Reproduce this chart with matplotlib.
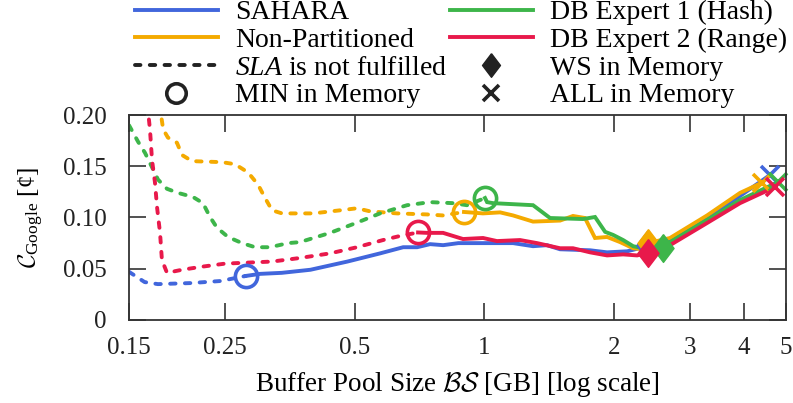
import matplotlib
matplotlib.use("Agg")
import matplotlib.pyplot as plt
from matplotlib.lines import Line2D
from matplotlib.ticker import FixedLocator, NullLocator

plt.rcParams['font.family'] = ['Liberation Serif', 'DejaVu Serif']
plt.rcParams['mathtext.fontset'] = 'custom'
plt.rcParams['mathtext.rm'] = 'Liberation Serif'
plt.rcParams['mathtext.it'] = 'Liberation Serif:italic'
plt.rcParams['mathtext.cal'] = 'cmsy10'

# buffer pool size [GB] vs. cost, split into "SLA not fulfilled" (dashed) and fulfilled (solid)
sahara_dash_x = [0.150, 0.163, 0.175, 0.208, 0.244, 0.280]
sahara_dash_y = [0.047, 0.037, 0.035, 0.036, 0.038, 0.043]
sahara_x = [0.280, 0.302, 0.339, 0.395, 0.481, 0.573, 0.648, 0.698, 0.748, 0.802, 0.870,
            0.992, 1.165, 1.296, 1.396, 1.497, 1.757, 1.924, 2.141, 2.332, 2.380,
            2.692, 3.280, 3.912, 4.591]
sahara_y = [0.043, 0.045, 0.046, 0.049, 0.057, 0.065, 0.071, 0.071, 0.074, 0.073, 0.075,
            0.075, 0.075, 0.072, 0.073, 0.069, 0.068, 0.066, 0.067, 0.071, 0.073,
            0.078, 0.100, 0.121, 0.1415]
sahara_min = (0.280, 0.043)
sahara_ws = (2.380, 0.073)
sahara_all = (4.591, 0.1415)

nonpart_dash_x = [0.1765, 0.180, 0.1846, 0.1937, 0.199, 0.210, 0.2464, 0.2641, 0.2831, 0.2987,
                  0.3101, 0.3219, 0.3394, 0.4005, 0.4626, 0.5065, 0.543, 0.6272, 0.736,
                  0.8018, 0.8965]
nonpart_dash_y = [0.210, 0.186, 0.178, 0.173, 0.161, 0.155, 0.154, 0.152, 0.144, 0.132,
                  0.119, 0.107, 0.104, 0.104, 0.107, 0.109, 0.106, 0.104, 0.103,
                  0.102, 0.1054]
nonpart_x = [0.8965, 0.992, 1.087, 1.165, 1.296, 1.497, 1.604, 1.710, 1.804, 1.924, 2.062,
             2.211, 2.332, 2.395, 2.692, 3.280, 3.912, 4.400]
nonpart_y = [0.1054, 0.104, 0.105, 0.102, 0.096, 0.097, 0.1015, 0.0995, 0.080, 0.081, 0.076,
             0.070, 0.069, 0.075, 0.080, 0.102, 0.124, 0.134]
nonpart_min = (0.8965, 0.1054)
nonpart_ws = (2.395, 0.075)
nonpart_all = (4.400, 0.134)

hash_dash_x = [0.150, 0.1574, 0.1634, 0.1696, 0.1751, 0.1837, 0.1948, 0.2111, 0.2226, 0.2311,
               0.2399, 0.2544, 0.2742, 0.294, 0.3184, 0.3505, 0.3736, 0.4386, 0.5065,
               0.5727, 0.6616, 0.7478, 0.8455, 0.911, 1.003]
hash_dash_y = [0.190, 0.174, 0.163, 0.149, 0.137, 0.128, 0.124, 0.120, 0.114, 0.1005,
               0.090, 0.081, 0.075, 0.071, 0.071, 0.075, 0.076, 0.085, 0.095,
               0.104, 0.112, 0.115, 0.114, 0.112, 0.119]
hash_x = [1.003, 1.014, 1.047, 1.296, 1.419, 1.692, 1.804, 1.904, 1.987, 2.096, 2.211,
          2.332, 2.594, 2.692, 3.280, 3.912, 4.793]
hash_y = [0.119, 0.115, 0.114, 0.112, 0.0995, 0.0985, 0.1005, 0.086, 0.083, 0.078, 0.072,
          0.070, 0.070, 0.076, 0.0976, 0.117, 0.1346]
hash_min = (1.003, 0.119)
hash_ws = (2.594, 0.070)
hash_all = (4.793, 0.1346)

range_dash_x = [0.1655, 0.1678, 0.1696, 0.1723, 0.1742, 0.177, 0.1788, 0.1837, 0.199, 0.2214,
                0.2504, 0.2831, 0.3219, 0.358, 0.3736, 0.4386, 0.5065, 0.5819, 0.6373, 0.7016]
range_dash_y = [0.210, 0.185, 0.156, 0.134, 0.110, 0.085, 0.0585, 0.046, 0.049, 0.052,
                0.055, 0.056, 0.057, 0.0595, 0.0605, 0.065, 0.071, 0.078, 0.082, 0.0854]
range_x = [0.7016, 0.736, 0.8018, 0.8918, 0.9923, 1.069, 1.209, 1.324, 1.497, 1.604, 1.757,
           1.924, 2.096, 2.258, 2.395, 2.692, 3.280, 3.912, 4.716]
range_y = [0.0854, 0.085, 0.085, 0.079, 0.080, 0.077, 0.078, 0.075, 0.070, 0.070, 0.066,
           0.063, 0.064, 0.063, 0.0654, 0.073, 0.0946, 0.114, 0.1298]
range_min = (0.7016, 0.0854)
range_ws = (2.395, 0.0654)
range_all = (4.716, 0.1298)

x_ticks = [0.15, 0.25, 0.5, 1, 2, 3, 4, 5]
x_ticklabels = ['0.15', '0.25', '0.5', '1', '2', '3', '4', '5']
y_ticks = [0, 0.05, 0.10, 0.15, 0.20]
y_ticklabels = ['0', '0.05', '0.10', '0.15', '0.20']

c_sahara = '#4166dc'
c_nonpart = '#f4aa00'
c_hash = '#3db54a'
c_range = '#e8194b'

series = [
    (sahara_dash_x, sahara_dash_y, sahara_x, sahara_y, sahara_min, sahara_ws, sahara_all, c_sahara),
    (nonpart_dash_x, nonpart_dash_y, nonpart_x, nonpart_y, nonpart_min, nonpart_ws, nonpart_all, c_nonpart),
    (hash_dash_x, hash_dash_y, hash_x, hash_y, hash_min, hash_ws, hash_all, c_hash),
    (range_dash_x, range_dash_y, range_x, range_y, range_min, range_ws, range_all, c_range),
]

lw = 2.8
dots = (0, (1.4, 2.4))
# diamond a bit wider than matplotlib's 'd'
diamond = [(0, 1), (0.76, 0), (0, -1), (-0.76, 0), (0, 1)]

fig = plt.figure(figsize=(7.93, 4.03), dpi=100)
ax = fig.add_axes([0.1627, 0.206, 0.8285, 0.5086])

for dx, dy, sx, sy, mn, ws, al, col in series:
    ax.plot(dx, dy, color=col, lw=lw, linestyle=dots, dash_capstyle='round')
    ax.plot(sx, sy, color=col, lw=lw, solid_joinstyle='miter')
for dx, dy, sx, sy, mn, ws, al, col in series:
    ax.plot([mn[0]], [mn[1]], marker='o', ms=16, mfc='none', mec=col, mew=2.6, clip_on=False)
    ax.plot([ws[0]], [ws[1]], marker=diamond, ms=20, mfc=col, mec=col, mew=1, clip_on=False)
    ax.plot([al[0]], [al[1]], marker='x', ms=13, mec=col, mew=2.6, clip_on=False)

ax.set_xscale('log')
ax.set_xlim(0.15, 5)
ax.set_ylim(0, 0.20)
ax.xaxis.set_major_locator(FixedLocator(x_ticks))
ax.xaxis.set_minor_locator(NullLocator())
ax.set_xticklabels(x_ticklabels)
ax.set_yticks(y_ticks)
ax.set_yticklabels(y_ticklabels)
ax.tick_params(axis='both', which='major', direction='in', length=12, width=1.1,
               top=True, right=True, labelsize=18, colors='#222222')
ax.tick_params(axis='x', pad=12)
ax.tick_params(axis='y', pad=16)
for sp in ax.spines.values():
    sp.set_linewidth(1.3)
    sp.set_color('#333333')

ax.set_xlabel(r'Buffer Pool Size $\mathcal{BS}$ [GB] [log scale]', fontsize=19.5, labelpad=8)
ax.set_ylabel(r'$\mathcal{C}_{\mathrm{Google}}$ [¢]', fontsize=18, labelpad=12)

handles = [
    Line2D([], [], color=c_sahara, lw=lw),
    Line2D([], [], color=c_nonpart, lw=lw),
    Line2D([], [], color='#222222', lw=lw, linestyle=dots, dash_capstyle='round'),
    Line2D([], [], color='#222222', lw=0, marker='o', ms=14, mfc='none', mew=2.6),
    Line2D([], [], color=c_hash, lw=lw),
    Line2D([], [], color=c_range, lw=lw),
    Line2D([], [], color='#222222', lw=0, marker=diamond, ms=17),
    Line2D([], [], color='#222222', lw=0, marker='x', ms=11, mew=2.6),
]
labels = ['SAHARA', 'Non-Partitioned', r'$SLA$ is not fulfilled', 'MIN in Memory',
          'DB Expert 1 (Hash)', 'DB Expert 2 (Range)', 'WS in Memory', 'ALL in Memory']
fig.legend(handles, labels, ncol=2, loc='upper left', bbox_to_anchor=(0.170, 1.0),
           frameon=False, fontsize=20, handlelength=3.0, handletextpad=0.6,
           columnspacing=0.1, labelspacing=0.08, borderpad=0, borderaxespad=0)

fig.savefig('out.png', dpi=100)
